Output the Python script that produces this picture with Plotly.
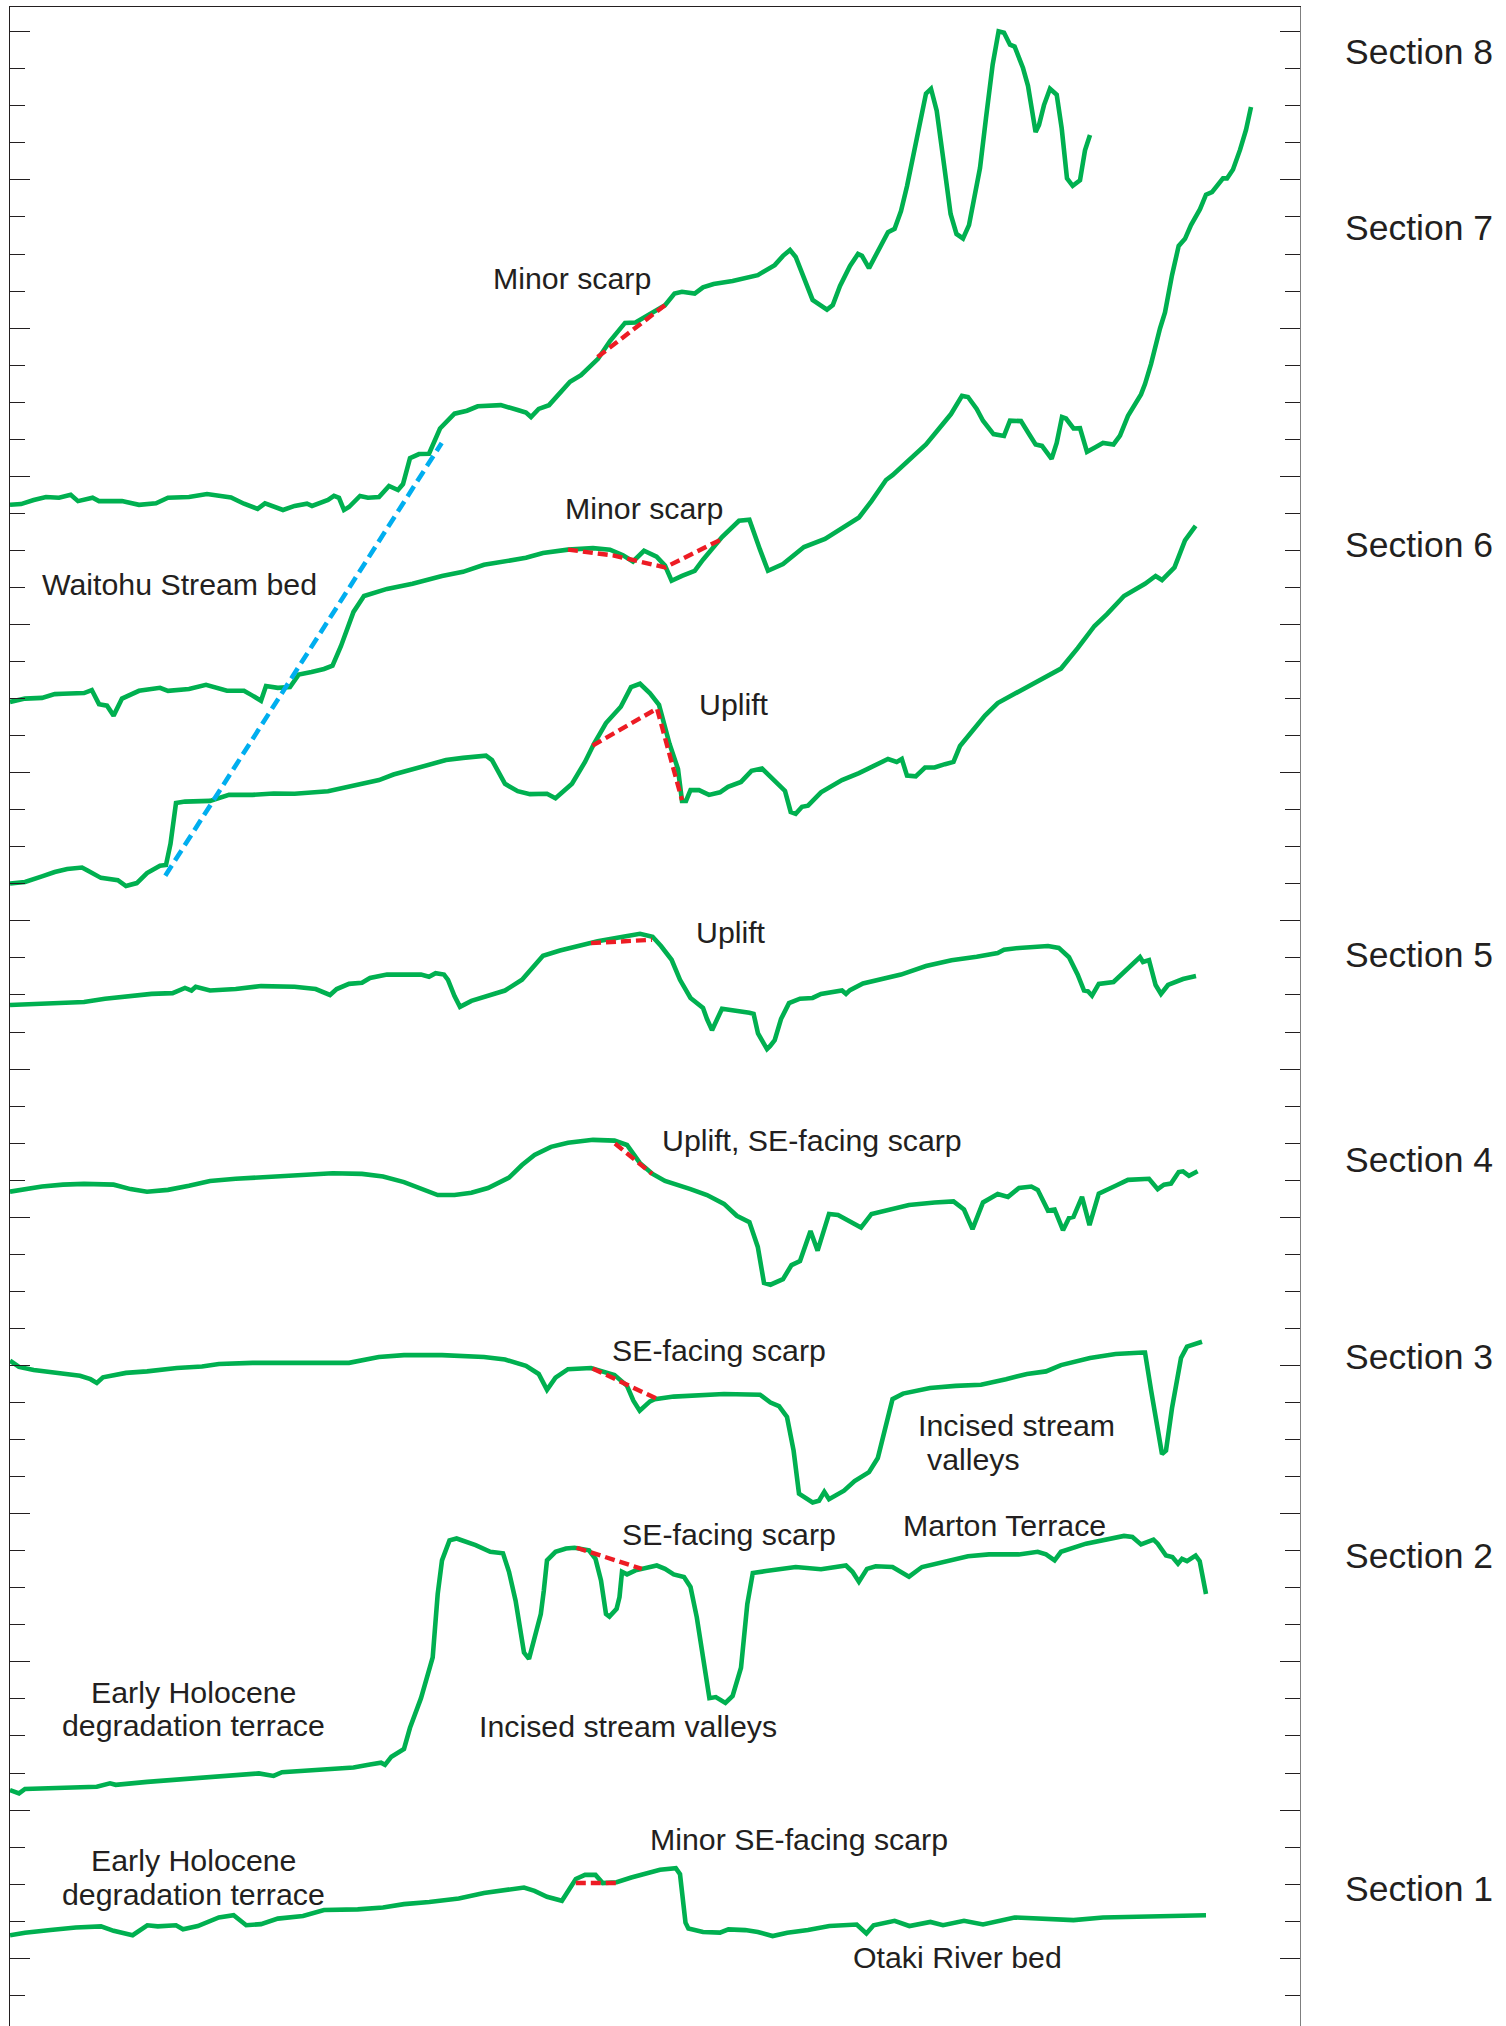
import plotly.graph_objects as go

# Topographic profiles across the fault zone.
# Each point: (distance along the profile, relative elevation in tick units).
SECTION_8 = [
    (0, 41.23), (11, 41.25), (23.7, 41.36), (36, 41.44), (49, 41.42), (60.7, 41.50), (68, 41.33),
    (82.6, 41.42), (89, 41.33), (112, 41.33), (129, 41.23), (146, 41.27), (158, 41.42), (179, 41.44),
    (197, 41.52), (221, 41.43), (234, 41.26), (247.6, 41.12), (255, 41.27), (273, 41.09), (284.6, 41.20),
    (297, 41.26), (302, 41.20), (318, 41.36), (324, 41.47), (329, 41.42), (334, 41.09), (339, 41.17),
    (350, 41.47), (358, 41.42), (369, 41.44), (379, 41.74), (388, 41.63), (393, 41.79), (400, 42.49),
    (409, 42.60), (419, 42.61), (430, 43.29), (444.5, 43.69), (457, 43.77), (467.7, 43.89), (490.8, 43.92),
    (507.7, 43.79), (516, 43.72), (521, 43.60), (528.7, 43.82), (539, 43.92), (560, 44.55), (571, 44.73),
    (588, 45.17), (600, 45.65), (615, 46.14), (625.5, 46.15), (650, 46.57), (655, 46.62), (664.5, 46.93),
    (672, 46.98), (684.7, 46.93), (693, 47.10), (703.6, 47.19), (722.6, 47.27), (747.8, 47.43),
    (764.7, 47.70), (773, 47.95), (780, 48.11), (785.7, 47.92), (796, 47.19), (802.6, 46.76), (817, 46.50),
    (822.8, 46.62), (830, 47.14), (840, 47.68), (848, 48.00), (852, 47.95), (859, 47.62), (867.8, 48.05),
    (878, 48.59), (884.6, 48.68), (891, 49.16), (897, 49.83), (903.6, 50.71), (910, 51.63), (916, 52.33),
    (921, 52.46), (926.7, 51.87), (933, 50.62), (940.6, 49.08), (946.5, 48.54), (953, 48.42), (959, 48.78),
    (964.6, 49.57), (970, 50.32), (976, 51.67), (982.7, 53.12), (988.6, 54.01), (994, 53.97), (1000, 53.65),
    (1004.6, 53.60), (1013, 53.02), (1018, 52.54), (1025.6, 51.29), (1029, 51.48), (1034, 52.02),
    (1040, 52.46), (1046.7, 52.30), (1051.7, 51.39), (1057, 50.04), (1062.7, 49.84), (1070, 49.99),
    (1075, 50.80), (1080, 51.21),
]

SECTION_7 = [
    (0, 35.91), (15, 36.00), (32, 36.02), (44.7, 36.12), (53, 36.13), (74, 36.15), (81.8, 36.23),
    (89, 35.85), (97, 35.81), (103.6, 35.54), (112, 36.00), (129, 36.21), (150, 36.29), (158, 36.21),
    (179, 36.26), (196, 36.37), (217, 36.21), (234, 36.21), (242.5, 36.08), (251, 35.94), (256, 36.34),
    (267.8, 36.29), (280, 36.31), (288.8, 36.65), (301.5, 36.72), (314, 36.80), (322.5, 36.89),
    (331, 37.42), (343.5, 38.34), (354, 38.77), (377, 38.96), (402.5, 39.10), (432, 39.31), (453, 39.42),
    (474, 39.61), (495, 39.70), (516, 39.80), (533, 39.93), (558, 40.02), (583, 40.06), (600, 40.02),
    (613, 39.87), (623, 39.70), (634, 39.99), (646.6, 39.83), (655, 39.59), (661.6, 39.18), (672, 39.31),
    (684.7, 39.45), (693, 39.75), (712, 40.36), (729, 40.80), (739.4, 40.83), (750, 40.02), (758, 39.45),
    (773, 39.63), (794, 40.09), (815, 40.31), (836, 40.66), (849, 40.89), (861.5, 41.33), (876, 41.90),
    (882.5, 42.03), (899, 42.42), (916, 42.86), (924.6, 43.14), (941, 43.68), (952, 44.17), (958, 44.14),
    (966.7, 43.82), (973, 43.50), (983.5, 43.14), (994, 43.09), (1000, 43.50), (1011, 43.49),
    (1019, 43.14), (1025.6, 42.86), (1032, 42.82), (1041.6, 42.47), (1046.7, 42.90), (1052, 43.60),
    (1056, 43.56), (1063.5, 43.29), (1070, 43.30), (1077, 42.66), (1084.5, 42.77), (1093, 42.90),
    (1103.5, 42.86), (1110, 43.10), (1118, 43.63), (1131, 44.21), (1135, 44.49), (1141, 45.03),
    (1150, 45.99), (1155, 46.42), (1162, 47.43), (1168.7, 48.22), (1175, 48.41), (1181, 48.78),
    (1190, 49.21), (1196, 49.60), (1202, 49.67), (1213, 50.04), (1217, 50.04), (1223, 50.28),
    (1230, 50.81), (1236, 51.35), (1241, 51.97),
]

SECTION_6 = [
    (0, 31.01), (15, 31.05), (32, 31.20), (44.7, 31.32), (57.3, 31.40), (72, 31.44), (78, 31.35),
    (91, 31.16), (107.8, 31.10), (116, 30.94), (126.8, 31.02), (137, 31.29), (150, 31.49), (156, 31.51),
    (160.5, 32.08), (166, 33.18), (175, 33.22), (200, 33.24), (219, 33.40), (242.5, 33.40), (263.6, 33.44),
    (284.6, 33.43), (318, 33.50), (339, 33.62), (369, 33.80), (383.5, 33.95), (411, 34.14), (436, 34.34),
    (453, 34.40), (476, 34.46), (482, 34.34), (495, 33.70), (507.7, 33.50), (520, 33.42), (537, 33.43),
    (545.5, 33.31), (562, 33.70), (575, 34.29), (584, 34.78), (596, 35.34), (610.8, 35.78), (621, 36.31),
    (630, 36.40), (640, 36.14), (649, 35.83), (659.5, 34.78), (668, 34.10), (672, 33.24), (676, 33.24),
    (680.5, 33.53), (689, 33.53), (699, 33.40), (710, 33.47), (718, 33.62), (731, 33.75), (741.5, 34.05),
    (752, 34.11), (764.7, 33.80), (775, 33.51), (780.7, 32.94), (785.7, 32.89), (792, 33.08), (798, 33.11),
    (811, 33.47), (832, 33.80), (849, 33.99), (865.7, 34.21), (878, 34.37), (886.7, 34.29), (891.8, 34.37),
    (897, 33.92), (905.7, 33.90), (915, 34.14), (924.6, 34.14), (935, 34.23), (943.5, 34.29), (950, 34.72),
    (962.5, 35.15), (975, 35.54), (987.7, 35.88), (1013, 36.26), (1034, 36.55), (1051, 36.81),
    (1067.7, 37.36), (1084.5, 37.96), (1097, 38.28), (1114, 38.77), (1135, 39.10), (1145.6, 39.31),
    (1152, 39.20), (1164.5, 39.54), (1175, 40.27), (1185.6, 40.66),
]

SECTION_5 = [
    (0, 27.73), (32, 27.76), (53, 27.76), (74, 27.81), (95, 27.90), (116, 27.97), (141.5, 28.03),
    (162.6, 28.05), (175, 28.19), (181.5, 28.12), (185.7, 28.22), (200, 28.12), (225.7, 28.16),
    (251, 28.24), (284.6, 28.22), (305.7, 28.16), (320, 28.00), (326.7, 28.16), (339, 28.30), (352, 28.33),
    (360, 28.46), (377, 28.55), (394, 28.55), (411, 28.55), (419, 28.49), (425.6, 28.59), (434, 28.55),
    (438, 28.41), (444.5, 27.97), (450, 27.68), (461.4, 27.84), (478, 27.97), (495, 28.12), (512, 28.41),
    (533, 29.06), (550, 29.20), (570.8, 29.35), (587.6, 29.45), (613, 29.57), (630, 29.65), (642.6, 29.57),
    (651, 29.32), (661.6, 28.95), (670, 28.41), (680.5, 27.92), (693, 27.65), (697, 27.35), (702, 27.05),
    (712, 27.63), (731, 27.57), (739.4, 27.52), (743.6, 27.49), (748, 26.96), (754, 26.68), (757, 26.54),
    (760, 26.62), (764.7, 26.78), (771, 27.35), (779, 27.78), (790, 27.90), (802.6, 27.92), (811, 28.03),
    (832, 28.12), (836, 28.03), (840, 28.13), (853, 28.31), (870, 28.43), (891, 28.55), (916, 28.78),
    (941.5, 28.94), (966.7, 29.03), (987.7, 29.13), (994, 29.22), (1009, 29.27), (1038, 29.32),
    (1048.8, 29.27), (1059, 29.02), (1067.7, 28.55), (1074, 28.12), (1078, 28.10), (1082, 27.98),
    (1088.8, 28.30), (1103.5, 28.35), (1118, 28.70), (1130, 29.02), (1133, 28.89), (1139, 28.94),
    (1145.6, 28.27), (1151, 28.03), (1158, 28.27), (1173, 28.43), (1186, 28.51),
]

SECTION_4 = [
    (0, 22.69), (15, 22.76), (32, 22.83), (53, 22.88), (74, 22.90), (103.6, 22.88), (120.5, 22.76),
    (137, 22.69), (158, 22.74), (179, 22.85), (200, 22.98), (225.7, 23.04), (263.6, 23.10), (293, 23.14),
    (322.5, 23.19), (352, 23.17), (373, 23.10), (394, 22.95), (411, 22.76), (427.7, 22.60), (444.5, 22.60),
    (461.4, 22.66), (478, 22.79), (499, 23.07), (512, 23.41), (524.5, 23.68), (541, 23.90), (558, 24.01),
    (583, 24.09), (604.5, 24.07), (617, 23.95), (630, 23.46), (642.6, 23.17), (655, 22.98), (680.5, 22.76),
    (697, 22.60), (714, 22.36), (726.8, 22.04), (739.4, 21.87), (747.8, 21.20), (754, 20.23),
    (760.5, 20.18), (773, 20.33), (781.5, 20.71), (790, 20.82), (796, 21.29), (800.5, 21.63),
    (807.6, 21.10), (819, 22.09), (828, 22.06), (851, 21.72), (861.5, 22.09), (882.5, 22.21), (899, 22.33),
    (924.6, 22.40), (943.5, 22.43), (954, 22.21), (962.5, 21.68), (973, 22.40), (987.7, 22.63),
    (998, 22.55), (1009, 22.79), (1021.4, 22.83), (1027.7, 22.74), (1038, 22.18), (1044.6, 22.21),
    (1053, 21.65), (1059, 21.98), (1063.5, 22.01), (1072, 22.55), (1079.5, 21.79), (1088.8, 22.64),
    (1105.6, 22.85), (1118, 23.01), (1139, 23.04), (1147.7, 22.76), (1154, 22.88), (1161, 22.91),
    (1168.7, 23.22), (1173, 23.24), (1179, 23.12), (1187.6, 23.24),
]

SECTION_3 = [
    (0, 18.13), (9, 17.96), (23.7, 17.88), (44.7, 17.82), (70, 17.72), (80.5, 17.63), (86.8, 17.53),
    (93, 17.68), (116, 17.80), (137, 17.84), (166.8, 17.93), (192, 17.97), (208.9, 18.04), (242.5, 18.07),
    (276, 18.07), (310, 18.04), (339, 18.07), (368.8, 18.23), (394, 18.28), (432, 18.28), (474, 18.23),
    (495, 18.16), (516, 17.99), (528.7, 17.77), (537, 17.34), (545.5, 17.67), (558, 17.90), (581, 17.93),
    (604.5, 17.74), (617, 17.45), (623.4, 17.05), (629.7, 16.78), (640, 17.03), (644.7, 17.09),
    (663.7, 17.16), (714, 17.23), (750, 17.21), (760.5, 17.00), (769, 16.90), (777, 16.61), (783.6, 15.70),
    (789, 14.54), (796, 14.42), (802.6, 14.30), (809, 14.35), (814.3, 14.59), (819, 14.39), (834, 14.62),
    (844.6, 14.88), (859, 15.12), (867.8, 15.50), (874, 16.18), (882.5, 17.09), (893, 17.24), (920, 17.39),
    (945.6, 17.45), (971, 17.48), (996, 17.63), (1017, 17.77), (1036, 17.84), (1051, 18.01), (1080, 18.20),
    (1105.6, 18.31), (1133, 18.35), (1135, 18.35), (1141, 17.34), (1147.7, 16.28), (1152, 15.61),
    (1156, 15.70), (1162, 16.85), (1171, 18.20), (1177, 18.51), (1192, 18.64),
]

SECTION_2 = [
    (0, 6.54), (9, 6.45), (15, 6.57), (32, 6.58), (57.3, 6.60), (86.8, 6.63), (100, 6.72), (105.7, 6.68),
    (137.3, 6.76), (179.4, 6.85), (208.9, 6.90), (234, 6.95), (248.8, 6.99), (263.6, 6.92), (272, 7.02),
    (305.7, 7.08), (343.5, 7.15), (360, 7.23), (371, 7.28), (375, 7.22), (381.4, 7.44), (394, 7.65),
    (400, 8.22), (411, 9.02), (418.5, 9.66), (422.7, 10.12), (427.7, 11.83), (432, 12.74), (439.5, 13.28),
    (446.6, 13.33), (465.6, 13.15), (480.3, 12.97), (493, 12.93), (499, 12.43), (505.6, 11.65),
    (509.8, 10.84), (514, 10.25), (519, 10.08), (524.5, 10.66), (530.8, 11.29), (533.8, 11.92),
    (537, 12.74), (545.5, 12.97), (556, 13.06), (564.5, 13.08), (579, 13.01), (585.5, 12.78), (591, 12.20),
    (596, 11.29), (599.4, 11.22), (606.6, 11.43), (609.5, 11.75), (612, 12.43), (617, 12.36),
    (625.5, 12.47), (638, 12.53), (646.8, 12.60), (655, 12.51), (663.7, 12.36), (674, 12.29),
    (680.5, 12.02), (686.8, 11.20), (693, 10.11), (699.4, 9.02), (705.8, 9.05), (715.4, 8.89),
    (722.6, 9.08), (731, 9.84), (737.3, 11.56), (742.8, 12.40), (756, 12.45), (785.7, 12.56), (811, 12.50),
    (836, 12.60), (842.5, 12.43), (848.9, 12.16), (857, 12.51), (865.7, 12.58), (882.5, 12.56),
    (891, 12.43), (899, 12.30), (912, 12.56), (933, 12.70), (958, 12.85), (979, 12.90), (1008.8, 12.90),
    (1027.7, 12.97), (1036, 12.90), (1044.6, 12.74), (1051, 12.97), (1076, 13.19), (1097, 13.30),
    (1114, 13.40), (1122.4, 13.37), (1131, 13.17), (1143.5, 13.30), (1147.7, 13.19), (1156, 12.87),
    (1162.4, 12.83), (1168, 12.65), (1172, 12.78), (1177, 12.72), (1185.6, 12.87), (1189.7, 12.72),
    (1196, 11.83),
]

SECTION_1 = [
    (0, 2.62), (15, 2.69), (40.5, 2.76), (65.8, 2.83), (91, 2.86), (103.6, 2.74), (122.6, 2.62),
    (137.3, 2.89), (147.8, 2.86), (162.6, 2.86), (166, 2.89), (173, 2.78), (187.8, 2.87), (208.9, 3.10),
    (223.6, 3.16), (236.2, 2.89), (251, 2.92), (267.8, 3.07), (293, 3.14), (314, 3.30), (347.7, 3.32),
    (373, 3.37), (394, 3.46), (419.3, 3.52), (448.8, 3.61), (474, 3.76), (495, 3.85), (514, 3.91),
    (524.5, 3.82), (537, 3.66), (551.9, 3.55), (558, 3.82), (565.8, 4.14), (575, 4.25), (585.5, 4.25),
    (592.7, 4.03), (606.6, 4.05), (621.3, 4.18), (638, 4.30), (650, 4.39), (665.8, 4.43), (670, 4.27),
    (675.5, 2.96), (678.4, 2.80), (693, 2.71), (710, 2.69), (718.4, 2.78), (735.2, 2.76), (747.8, 2.71),
    (762.6, 2.60), (777.3, 2.69), (798, 2.76), (819.4, 2.87), (846.7, 2.91), (856.4, 2.67), (863.6, 2.89),
    (884.6, 3.01), (899.4, 2.87), (920.4, 2.98), (933, 2.89), (954, 3.01), (973, 2.91), (1004.6, 3.10),
    (1034, 3.07), (1063.5, 3.03), (1093, 3.10), (1135, 3.12), (1168.7, 3.14), (1196, 3.16),
]

# Interpreted original surfaces across the scarps (red dashed)
SCARP_8 = [(587.6, 45.22), (655, 46.62)]
SCARP_7 = [(558, 40.02), (604, 39.86), (655, 39.54), (710, 40.28)]
SCARP_6 = [(582.6, 34.73), (647, 35.73), (672, 33.26)]
SCARP_5 = [(581, 29.40), (642, 29.49)]
SCARP_4 = [(605, 23.99), (630, 23.46), (642, 23.17)]
SCARP_3 = [(582.6, 17.92), (646.8, 17.10)]
SCARP_2 = [(566.6, 13.08), (631.8, 12.51)]
SCARP_1 = [(565.8, 4.03), (606.6, 4.03)]

# Waitohu Stream bed gradient (blue dashed)
STREAM_BED = [(155.3, 31.22), (431.7, 42.90)]

SECTION_NAMES = ["Section 8", "Section 7", "Section 6", "Section 5",
                 "Section 4", "Section 3", "Section 2", "Section 1"]

GREEN = "#00b050"
RED = "#ed1c24"
BLUE = "#00aeef"
INK = "#231f20"
FONT = "Liberation Sans, Arial, Helvetica, sans-serif"


def unzip(points):
    return [p[0] for p in points], [p[1] for p in points]


fig = go.Figure()

for prof in [SECTION_8, SECTION_7, SECTION_6, SECTION_5,
             SECTION_4, SECTION_3, SECTION_2, SECTION_1]:
    xs, ys = unzip(prof)
    fig.add_trace(go.Scatter(x=xs, y=ys, mode="lines",
                             line=dict(color=GREEN, width=4.6),
                             hoverinfo="skip", showlegend=False))

for scarp in [SCARP_8, SCARP_7, SCARP_6, SCARP_5, SCARP_4, SCARP_3, SCARP_2, SCARP_1]:
    xs, ys = unzip(scarp)
    fig.add_trace(go.Scatter(x=xs, y=ys, mode="lines",
                             line=dict(color=RED, width=4.4, dash="10px,5px"),
                             hoverinfo="skip", showlegend=False))

xs, ys = unzip(STREAM_BED)
fig.add_trace(go.Scatter(x=xs, y=ys, mode="lines",
                         line=dict(color=BLUE, width=4.6, dash="12px,6px"),
                         hoverinfo="skip", showlegend=False))

# empty trace so the right-hand tick axis is drawn
fig.add_trace(go.Scatter(x=[None], y=[None], yaxis="y2", mode="lines",
                         hoverinfo="skip", showlegend=False))

Y_RANGE = [0.171, 54.667]
X_RANGE = [0, 1290]

tick_common = dict(
    range=Y_RANGE, showticklabels=False, showgrid=False, zeroline=False,
    ticks="inside", tickmode="linear", tick0=2, dtick=4, ticklen=20,
    tickwidth=1.4, tickcolor=INK,
    minor=dict(ticks="inside", tickmode="linear", tick0=0, dtick=1,
               ticklen=15, tickwidth=1.4, tickcolor=INK, showgrid=False),
    showline=True, linewidth=1.3, fixedrange=True,
)

annotations = []


def note(text, x, y, xanchor="center", size=30.3):
    annotations.append(dict(text=text, x=x, y=y, xref="x", yref="y",
                            showarrow=False, xanchor=xanchor, yanchor="middle",
                            font=dict(family=FONT, size=size, color=INK)))


note("Minor scarp", 562, 47.35)
note("Minor scarp", 634, 41.14)
note("Waitohu Stream bed", 30, 39.08, "left")
note("Uplift", 687, 35.83, "left")
note("Uplift", 683.5, 29.69, "left")
note("Uplift, SE-facing scarp", 650, 24.06, "left")
note("SE-facing scarp", 709, 18.40)
note("Incised stream", 905.7, 16.39, "left")
note("valleys", 915, 15.45, "left")
note("SE-facing scarp", 719, 13.45)
note("Marton Terrace", 994.5, 13.69)
note("Early Holocene", 183, 9.17)
note("degradation terrace", 183, 8.28)
note("Incised stream valleys", 618, 8.25)
note("Early Holocene", 183, 4.65)
note("degradation terrace", 183, 3.71)
note("Minor SE-facing scarp", 789, 5.21)
note("Otaki River bed", 947, 2.03)

for name, y in zip(SECTION_NAMES, [53.45, 48.70, 40.14, 29.09, 23.55, 18.22, 12.86, 3.88]):
    annotations.append(dict(text=name, x=1.0333, y=y, xref="paper", yref="y",
                            showarrow=False, xanchor="left", yanchor="middle",
                            font=dict(family=FONT, size=35.5, color=INK)))

fig.update_layout(
    width=1506, height=2026,
    margin=dict(l=10, r=206, t=7, b=0, pad=0),
    paper_bgcolor="white", plot_bgcolor="white",
    showlegend=False,
    xaxis=dict(range=X_RANGE, side="top", showline=True, linecolor=INK, linewidth=1.3,
               showticklabels=False, ticks="", showgrid=False, zeroline=False, fixedrange=True),
    yaxis=dict(side="left", linecolor=INK, **tick_common),
    yaxis2=dict(side="right", overlaying="y", anchor="x", linecolor="#7f7f7f", **tick_common),
    annotations=annotations,
)

fig.write_html("out.html", config=dict(displayModeBar=False))
